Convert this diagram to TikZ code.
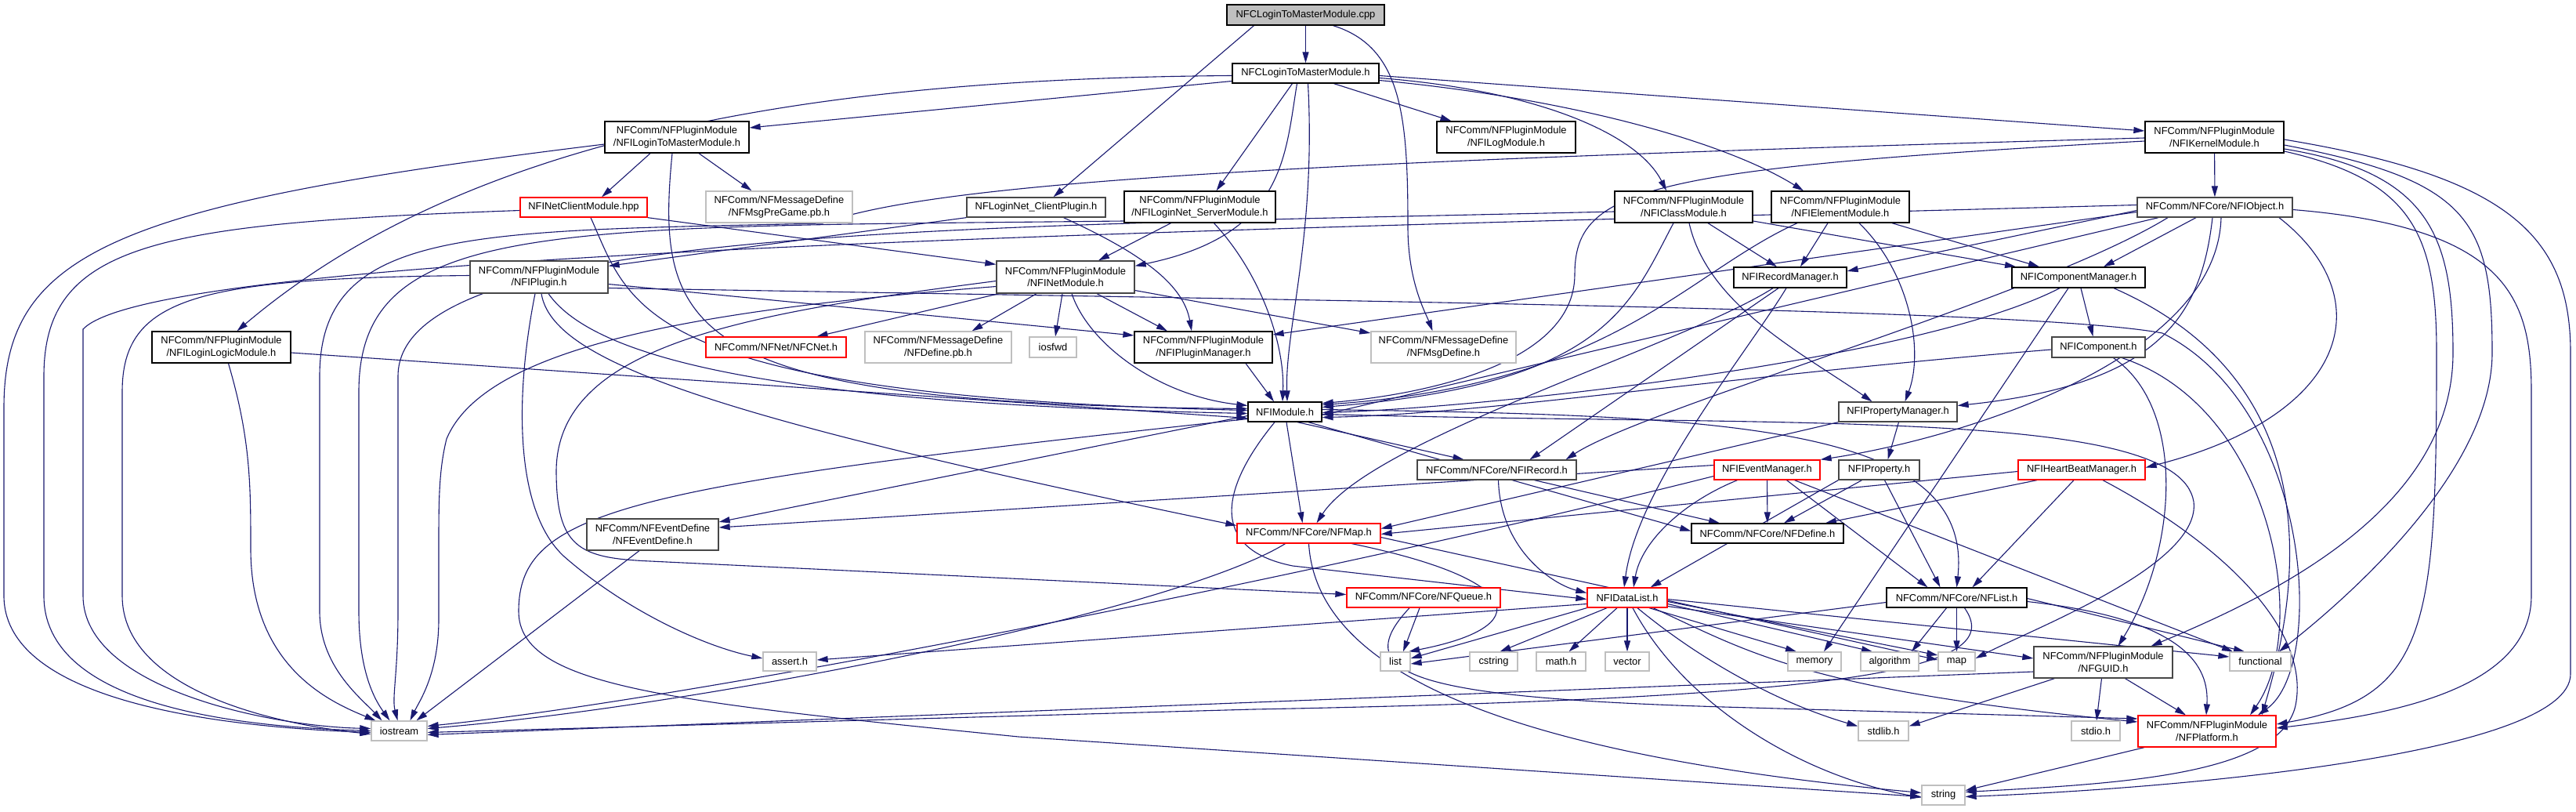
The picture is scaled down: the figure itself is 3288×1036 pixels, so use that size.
\documentclass[tikz,border=0pt]{standalone}
\usepackage{fontspec}
\setmainfont{Liberation Sans}
\usetikzlibrary{arrows.meta, backgrounds}
\definecolor{edgeblue}{RGB}{25,25,112}
\definecolor{leafgray}{RGB}{191,191,191}

\begin{document}
\begin{tikzpicture}[x=1pt, y=-1pt,
  hdr/.style={draw=black, fill=white, line width=1.3pt, inner sep=0pt, align=center,
    font=\fontsize{12.9}{15.5}\selectfont},
  dimhdr/.style={hdr, draw=black!72},
  leaf/.style={hdr, draw=leafgray},
  trunc/.style={hdr, draw=red},
  root/.style={hdr, fill=leafgray},
  inc/.style={draw=edgeblue, line width=1.1pt, -{Triangle[length=14pt,width=8pt]}}]
  \useasboundingbox (0,0) rectangle (3288,1036);

  % Top rows
  \node[root, minimum width=201pt, minimum height=26pt] (cpp) at (1666.5,19) {NFCLoginToMasterModule.cpp};
  \node[hdr, minimum width=187pt, minimum height=25pt] (ltmh) at (1666.5,93.5) {NFCLoginToMasterModule.h};
  \node[hdr, minimum width=184pt, minimum height=40pt] (iltm) at (864,175) {NFComm/NFPluginModule\\/NFILoginToMasterModule.h};
  \node[hdr, minimum width=177pt, minimum height=40pt] (ilog) at (1922.5,175) {NFComm/NFPluginModule\\/NFILogModule.h};
  \node[hdr, minimum width=177pt, minimum height=40pt] (ikernel) at (2826.5,175) {NFComm/NFPluginModule\\/NFIKernelModule.h};
  \node[trunc, minimum width=162pt, minimum height=25pt] (netclient) at (745,264.5) {NFINetClientModule.hpp};
  \node[leaf, minimum width=187pt, minimum height=40pt] (msgpregame) at (994.5,264) {NFComm/NFMessageDefine\\/NFMsgPreGame.pb.h};
  \node[dimhdr, minimum width=177pt, minimum height=25pt] (clientplugin) at (1322.5,264.5) {NFLoginNet\_ClientPlugin.h};
  \node[hdr, minimum width=193pt, minimum height=40pt] (isrv) at (1531.5,264) {NFComm/NFPluginModule\\/NFILoginNet\_ServerModule.h};
  \node[hdr, minimum width=176pt, minimum height=40pt] (iclass) at (2149,264) {NFComm/NFPluginModule\\/NFIClassModule.h};
  \node[hdr, minimum width=176pt, minimum height=40pt] (ielem) at (2349,264) {NFComm/NFPluginModule\\/NFIElementModule.h};
  \node[dimhdr, minimum width=198pt, minimum height=25pt] (iobject) at (2827,264.5) {NFComm/NFCore/NFIObject.h};
  \node[dimhdr, minimum width=176pt, minimum height=41pt] (iplugin) at (688,353.5) {NFComm/NFPluginModule\\/NFIPlugin.h};
  \node[dimhdr, minimum width=176pt, minimum height=41pt] (inet) at (1360,353.5) {NFComm/NFPluginModule\\/NFINetModule.h};
  \node[hdr, minimum width=144pt, minimum height=26pt] (irecmgr) at (2285,354) {NFIRecordManager.h};
  \node[hdr, minimum width=170pt, minimum height=26pt] (icompmgr) at (2653,354) {NFIComponentManager.h};
  \node[hdr, minimum width=177pt, minimum height=40pt] (illm) at (282.5,443) {NFComm/NFPluginModule\\/NFILoginLogicModule.h};
  \node[trunc, minimum width=179pt, minimum height=26pt] (cnet) at (990.5,443) {NFComm/NFNet/NFCNet.h};
  \node[leaf, minimum width=187pt, minimum height=40pt] (definepb) at (1197.5,443) {NFComm/NFMessageDefine\\/NFDefine.pb.h};
  \node[leaf, minimum width=60pt, minimum height=26pt] (iosfwd) at (1344,443) {iosfwd};
  \node[hdr, minimum width=176pt, minimum height=40pt] (iplugmgr) at (1536,443) {NFComm/NFPluginModule\\/NFIPluginManager.h};
  \node[leaf, minimum width=185pt, minimum height=40pt] (msgdefine) at (1842.5,443) {NFComm/NFMessageDefine\\/NFMsgDefine.h};
  \node[dimhdr, minimum width=119pt, minimum height=26pt] (icomp) at (2678.5,443) {NFIComponent.h};

  % Middle rows
  \node[hdr, minimum width=94pt, minimum height=25pt] (imodule) at (1640,525.5) {NFIModule.h};
  \node[dimhdr, minimum width=151pt, minimum height=25pt] (iprpmgr) at (2422.5,525.5) {NFIPropertyManager.h};
  \node[dimhdr, minimum width=203pt, minimum height=25pt] (irecord) at (1910.5,599.5) {NFComm/NFCore/NFIRecord.h};
  \node[trunc, minimum width=135pt, minimum height=25pt] (ievtmgr) at (2255.5,599.5) {NFIEventManager.h};
  \node[dimhdr, minimum width=103pt, minimum height=25pt] (iprop) at (2398.5,599.5) {NFIProperty.h};
  \node[trunc, minimum width=162pt, minimum height=25pt] (iheart) at (2657,599.5) {NFIHeartBeatManager.h};
  \node[dimhdr, minimum width=168pt, minimum height=40pt] (eventdef) at (833,682) {NFComm/NFEventDefine\\/NFEventDefine.h};
  \node[trunc, minimum width=183pt, minimum height=25pt] (nfmap) at (1670.5,680.5) {NFComm/NFCore/NFMap.h};
  \node[hdr, minimum width=194pt, minimum height=25pt] (nfdefine) at (2256,680.5) {NFComm/NFCore/NFDefine.h};
  \node[trunc, minimum width=196pt, minimum height=25pt] (nfqueue) at (1817,762.5) {NFComm/NFCore/NFQueue.h};
  \node[trunc, minimum width=102pt, minimum height=25pt] (datalist) at (2077,762.5) {NFIDataList.h};
  \node[hdr, minimum width=179pt, minimum height=25pt] (nflist) at (2497.5,762.5) {NFComm/NFCore/NFList.h};

  % Bottom rows
  \node[leaf, minimum width=68pt, minimum height=24pt] (assert) at (1008,844) {assert.h};
  \node[leaf, minimum width=38pt, minimum height=24pt] (list) at (1781,844) {list};
  \node[leaf, minimum width=61pt, minimum height=24pt] (cstring) at (1906.5,844) {cstring};
  \node[leaf, minimum width=63pt, minimum height=24pt] (mathh) at (1992.5,844) {math.h};
  \node[leaf, minimum width=56pt, minimum height=24pt] (vector) at (2077,844) {vector};
  \node[leaf, minimum width=68pt, minimum height=24pt] (memory) at (2316,844) {memory};
  \node[leaf, minimum width=74pt, minimum height=24pt] (algorithm) at (2412,844) {algorithm};
  \node[leaf, minimum width=47pt, minimum height=24pt] (map) at (2497.5,844) {map};
  \node[dimhdr, minimum width=177pt, minimum height=40pt] (guid) at (2684.5,845) {NFComm/NFPluginModule\\/NFGUID.h};
  \node[leaf, minimum width=78pt, minimum height=24pt] (functional) at (2885,844) {functional};
  \node[leaf, minimum width=71pt, minimum height=25pt] (iostream) at (509.5,932.5) {iostream};
  \node[leaf, minimum width=64pt, minimum height=25pt] (stdlib) at (2404,932.5) {stdlib.h};
  \node[leaf, minimum width=62pt, minimum height=25pt] (stdio) at (2675,932.5) {stdio.h};
  \node[trunc, minimum width=176pt, minimum height=40pt] (platform) at (2817,933) {NFComm/NFPluginModule\\/NFPlatform.h};
  \node[leaf, minimum width=55pt, minimum height=25pt] (string) at (2480.5,1014.5) {string};

  \begin{scope}[on background layer]
  \fill[white] (0,0) rectangle (3288,1036);

  % cpp
  \draw[inc] (cpp) -- (ltmh);
  \draw[inc] ([xshift=-66pt]cpp.south) -- ([xshift=22pt]clientplugin.north);
  \draw[inc] ([xshift=35pt]cpp.south) .. controls (1790,60) and (1797,150) .. (1797,290) .. controls (1797,360) and (1820,400) .. ([xshift=-14pt]msgdefine.north);

  % NFCLoginToMasterModule.h
  \draw[inc] ([yshift=-10pt]ltmh.west) -- ([yshift=12pt]iltm.east);
  \draw[inc] ([yshift=-3pt]ltmh.west) .. controls (1050,100) and (600,170) .. ([xshift=20pt]illm.north);
  \draw[inc] ([xshift=36pt]ltmh.south) -- ([xshift=-70pt]ilog.north);
  \draw[inc] ([yshift=-6pt]ltmh.east) .. controls (1960,115) and (2090,170) .. ([xshift=-22pt]iclass.north);
  \draw[inc] ([yshift=-9pt]ltmh.east) .. controls (2000,125) and (2200,180) .. ([xshift=-47pt]ielem.north);
  \draw[inc] ([yshift=-3pt]ltmh.east) -- ([yshift=8pt]ikernel.west);
  \draw[inc] ([xshift=-17pt]ltmh.south) -- ([xshift=21pt]isrv.north);
  \draw[inc] ([xshift=-11pt]ltmh.south) .. controls (1640,200) and (1640,300) .. ([yshift=-7pt]inet.north east);
  \draw[inc] ([xshift=3pt]ltmh.south) .. controls (1680,300) and (1640,420) .. ([xshift=3pt]imodule.north);

  % NFILoginToMasterModule.h
  \draw[inc] ([xshift=-34pt]iltm.south) -- ([xshift=23pt]netclient.north);
  \draw[inc] ([xshift=28pt]iltm.south) -- ([xshift=-35pt]msgpregame.north);
  \draw[inc] ([xshift=-6pt]iltm.south) .. controls (835,430) and (880,515) .. ([yshift=4pt]imodule.west);
  \draw[inc] ([yshift=-9pt]iltm.west) .. controls (150,260) and (5,320) .. (5,520) -- (5,760) .. controls (5,900) and (300,928) .. ([yshift=-2pt]iostream.west);

  % NFINetClientModule.hpp
  \draw[inc] (netclient.south east) -- ([yshift=-5pt]inet.north west);
  \draw[inc] ([xshift=9pt]netclient.south) .. controls (805,390) and (810,505) .. ([yshift=2pt]imodule.west);
  \draw[inc] ([yshift=-4pt]netclient.west) .. controls (200,285) and (56,310) .. (56,480) -- (56,760) .. controls (56,900) and (300,927) .. ([yshift=0pt]iostream.west);

  % NFLoginNet_ClientPlugin.h
  \draw[inc] (clientplugin.south west) -- ([yshift=-7pt]iplugin.north east);
  \draw[inc] ([xshift=35pt]clientplugin.south) .. controls (1450,320) and (1510,360) .. ([xshift=-15pt]iplugmgr.north);

  % NFILoginNet_ServerModule.h
  \draw[inc] ([xshift=-37pt]isrv.south) -- ([xshift=42pt]inet.north);
  \draw[inc] ([xshift=18pt]isrv.south) .. controls (1610,350) and (1640,440) .. ([xshift=-3pt]imodule.north);
  \draw[inc] ([yshift=-18pt]isrv.west) .. controls (700,290) and (458,280) .. (458,500) -- (458,780) .. controls (458,860) and (480,895) .. ([xshift=-12pt]iostream.north);

  % NFIClassModule.h
  \draw[inc] ([xshift=31pt]iclass.south) -- ([xshift=-17pt]irecmgr.north);
  \draw[inc] ([xshift=7pt]iclass.south) .. controls (2180,390) and (2300,450) .. ([xshift=-33pt]iprpmgr.north);
  \draw[inc] ([xshift=-13pt]iclass.south) .. controls (2080,390) and (2050,490) .. ([yshift=6pt]imodule.east);
  \draw[inc] ([yshift=-18pt]iclass.east) -- ([xshift=-80pt]icompmgr.north);
  \draw[inc] ([yshift=-6pt]iclass.west) .. controls (1200,290) and (508,290) .. (508,480) -- (508,780) .. controls (508,860) and (500,890) .. ([xshift=-2pt]iostream.north);

  % NFIElementModule.h
  \draw[inc] ([xshift=-16pt]ielem.south) -- ([xshift=13pt]irecmgr.north);
  \draw[inc] ([xshift=24pt]ielem.south) .. controls (2440,350) and (2455,450) .. ([xshift=9pt]iprpmgr.north);
  \draw[inc] ([xshift=-55pt]ielem.south) .. controls (2150,350) and (2060,490) .. ([yshift=9pt]imodule.east);
  \draw[inc] ([xshift=66pt]ielem.south) -- ([xshift=-50pt]icompmgr.north);

  % NFIKernelModule.h
  \draw[inc] (ikernel) -- (iobject);
  \draw[inc] ([yshift=-5pt]ikernel.west) .. controls (2100,215) and (2010,240) .. (2010,350) .. controls (2010,470) and (1800,505) .. ([yshift=11pt]imodule.east);
  \draw[inc] ([yshift=-1pt]ikernel.west) .. controls (1700,205) and (1200,230) .. (1050,285) .. controls (600,295) and (408,290) .. (408,480) -- (408,780) .. controls (408,850) and (460,890) .. ([xshift=-22pt]iostream.north);
  \draw[inc] ([yshift=-15pt]ikernel.east) .. controls (3100,220) and (3131,300) .. (3131,450) .. controls (3131,650) and (2900,760) .. ([xshift=61pt]guid.north);
  \draw[inc] ([yshift=-18pt]ikernel.east) .. controls (3080,230) and (3110,300) .. (3110,450) .. controls (3110,800) and (3100,890) .. ([yshift=9pt]platform.east);
  \draw[inc] ([yshift=-10pt]ikernel.east) .. controls (3150,230) and (3181,280) .. (3181,450) .. controls (3181,600) and (3000,760) .. ([xshift=24pt]functional.north);
  \draw[inc] ([yshift=-3pt]ikernel.east) .. controls (3200,225) and (3281,300) .. (3281,450) -- (3281,860) .. controls (3281,960) and (2800,1005) .. ([yshift=-2pt]string.east);

  % NFComm/NFCore/NFIObject.h
  \draw[inc] ([yshift=-4pt]iobject.west) -- ([yshift=8pt]irecmgr.east);
  \draw[inc] ([xshift=-24pt]iobject.south) -- ([xshift=32pt]icompmgr.north);
  \draw[inc] ([xshift=-3pt]iobject.south) .. controls (2810,400) and (2760,490) .. ([yshift=8pt]iprpmgr.east);
  \draw[inc] ([xshift=8pt]iobject.south) .. controls (2830,460) and (2500,560) .. (ievtmgr.north east);
  \draw[inc] ([xshift=82pt]iobject.south) .. controls (3040,380) and (3000,530) .. ([yshift=3pt]iheart.east);
  \draw[inc] ([yshift=-3pt]iobject.east) .. controls (3200,290) and (3231,380) .. (3231,500) -- (3231,760) .. controls (3231,880) and (3050,912) .. ([yshift=4pt]platform.east);
  \draw[inc] ([yshift=3pt]iobject.west) .. controls (1500,295) and (200,320) .. (106,420) -- (106,760) .. controls (106,880) and (350,927) .. ([yshift=3pt]iostream.west);
  \draw[inc] ([yshift=-6pt]iobject.west) -- ([yshift=16pt]iplugmgr.east);
  \draw[inc] ([xshift=-72pt]iobject.south) -- ([yshift=-4pt]imodule.east);
  \draw[inc] ([xshift=-60pt]iobject.south) .. controls (2600,380) and (2100,520) .. ([xshift=88pt]irecord.north);

  % NFIRecordManager.h
  \draw[inc] ([xshift=-15pt]irecmgr.south) -- ([xshift=42pt]irecord.north);
  \draw[inc] ([xshift=-22pt]irecmgr.south) .. controls (2150,440) and (1750,560) .. ([xshift=10pt]nfmap.north);
  \draw[inc] ([xshift=-5pt]irecmgr.south) .. controls (2230,450) and (2090,620) .. ([xshift=-4pt]datalist.north);

  % NFIComponentManager.h
  \draw[inc] ([xshift=3pt]icompmgr.south) -- ([xshift=-7pt]icomp.north);
  \draw[inc] ([xshift=-24pt]icompmgr.south) .. controls (2450,460) and (1900,520) .. ([yshift=-1pt]imodule.east);
  \draw[inc] ([xshift=-13pt]icompmgr.south) -- ([xshift=12pt]memory.north);
  \draw[inc] ([xshift=45pt]icompmgr.south) .. controls (3000,500) and (2920,800) .. ([xshift=70pt]platform.north);

  % NFIComponent.h
  \draw[inc] ([yshift=-3pt]icomp.west) .. controls (2200,480) and (1900,528) .. ([yshift=-7pt]imodule.east);
  \draw[inc] ([xshift=19pt]icomp.south) .. controls (2790,520) and (2780,700) .. ([xshift=19pt]guid.north);
  \draw[inc] ([xshift=30pt]icomp.south) .. controls (2900,520) and (2950,800) .. ([xshift=55pt]platform.north);

  % NFIPropertyManager.h
  \draw[inc] ([xshift=1pt]iprpmgr.south) -- ([xshift=11pt]iprop.north);
  \draw[inc] (iprpmgr.south west) -- ([yshift=6pt]nfmap.east);

  % NFIProperty.h
  \draw[inc] ([xshift=-22pt]iprop.south) -- ([xshift=21pt]nfdefine.north);
  \draw[inc] ([xshift=7pt]iprop.south) -- ([xshift=-21pt]nflist.north);
  \draw[inc] (iprop.south west) -- ([xshift=-22pt]datalist.north east);

  % NFIEventManager.h
  \draw[inc] (ievtmgr) -- (nfdefine);
  \draw[inc] ([xshift=-38pt]ievtmgr.south) .. controls (2150,640) and (2095,690) .. ([xshift=8pt]datalist.north);
  \draw[inc] ([xshift=25pt]ievtmgr.south) -- ([xshift=-37pt]nflist.north);
  \draw[inc] ([xshift=35pt]ievtmgr.south) -- ([xshift=-35pt]functional.north);
  \draw[inc] ([yshift=6pt]ievtmgr.west) -- ([yshift=9pt]eventdef.east);
  \draw[inc] ([yshift=-8pt]ievtmgr.west) .. controls (1700,730) and (900,890) .. ([yshift=6pt]iostream.east);

  % NFIHeartBeatManager.h
  \draw[inc] ([xshift=-10pt]iheart.south) -- ([xshift=20pt]nflist.north);
  \draw[inc] ([xshift=-57pt]iheart.south) -- ([xshift=74pt]nfdefine.north);
  \draw[inc] ([yshift=-2pt]iheart.west) -- ([yshift=-1pt]nfmap.east);
  \draw[inc] ([xshift=27pt]iheart.south) .. controls (2830,690) and (2950,800) .. (2930,900) .. controls (2910,990) and (2700,1000) .. ([yshift=4pt]string.east);

  % NFComm/NFCore/NFIRecord.h
  \draw[inc] ([xshift=2pt]irecord.south) .. controls (1915,700) and (1980,745) .. ([yshift=6pt]datalist.west);
  \draw[inc] ([xshift=48pt]irecord.south) -- ([xshift=-61pt]nfdefine.north);

  % NFIModule.h
  \draw[inc] ([xshift=16pt]imodule.south) -- ([xshift=-42pt]irecord.north);
  \draw[inc] ([xshift=2pt]imodule.south) -- ([xshift=-8pt]nfmap.north);
  \draw[inc] ([xshift=30pt]imodule.south) -- ([yshift=3pt]nfdefine.west);
  \draw[inc] ([yshift=-5pt]imodule.west) -- ([yshift=16pt]eventdef.east);
  \draw[inc] ([xshift=-13pt]imodule.south) .. controls (1560,620) and (1540,700) .. (1650,722) -- ([yshift=-2pt]datalist.west);
  \draw[inc] ([yshift=-9pt]imodule.west) .. controls (800,620) and (662,650) .. (662,780) .. controls (662,875) and (850,895) .. (1300,940) -- ([yshift=-2pt]string.west);
  \draw[inc] ([yshift=3pt]imodule.east) .. controls (2200,530) and (2520,540) .. (nflist.north);
  \draw[inc] ([yshift=-3pt]imodule.east) .. controls (2300,545) and (2780,520) .. (2800,640) .. controls (2810,720) and (2600,800) .. ([yshift=4pt]map.east);

  % NFIPlugin.h
  \draw[inc] ([yshift=-9pt]iplugin.east) -- ([yshift=15pt]iplugmgr.west);
  \draw[inc] ([xshift=12pt]iplugin.south) .. controls (760,460) and (1000,515) .. ([yshift=-2pt]imodule.west);
  \draw[inc] ([yshift=2pt]iplugin.west) .. controls (250,355) and (156,380) .. (156,500) -- (156,760) .. controls (156,880) and (350,924) .. ([yshift=-4pt]iostream.west);
  \draw[inc] ([xshift=-5pt]iplugin.south) .. controls (658,500) and (655,650) .. (720,710) .. controls (800,780) and (900,825) .. ([yshift=4pt]assert.west);
  \draw[inc] ([xshift=3pt]iplugin.south) .. controls (705,460) and (900,530) .. ([yshift=10pt]nfmap.west);
  \draw[inc] ([yshift=-14pt]iplugin.east) .. controls (1800,385) and (2600,395) .. (2760,425) .. controls (2950,520) and (2970,850) .. ([xshift=65pt]platform.north);

  % NFILoginLogicModule.h
  \draw[inc] ([yshift=-7pt]illm.east) -- ([yshift=-8pt]imodule.west);
  \draw[inc] ([xshift=9pt]illm.south) .. controls (320,560) and (320,620) .. (320,700) .. controls (320,850) and (420,895) .. ([xshift=-30pt]iostream.north);

  % NFIPluginManager.h
  \draw[inc] ([xshift=54pt]iplugmgr.south) -- ([xshift=-14pt]imodule.north);

  % NFINetModule.h
  \draw[inc] ([xshift=-85pt]inet.south) -- ([xshift=52pt]cnet.north);
  \draw[inc] ([xshift=-37pt]inet.south) -- ([xshift=43pt]definepb.north);
  \draw[inc] ([xshift=-4pt]inet.south) -- ([xshift=3pt]iosfwd.north);
  \draw[inc] ([xshift=40pt]inet.south) -- ([xshift=-46pt]iplugmgr.north);
  \draw[inc] ([xshift=8pt]inet.south) .. controls (1390,440) and (1480,505) .. ([yshift=8pt]imodule.west);
  \draw[inc] ([yshift=-17pt]inet.east) -- ([yshift=18pt]msgdefine.west);
  \draw[inc] ([yshift=-5pt]inet.west) .. controls (950,400) and (712,440) .. (710,600) .. controls (710,700) and (740,712) .. (830,716) -- ([yshift=4pt]nfqueue.west);
  \draw[inc] ([yshift=-12pt]inet.west) .. controls (900,395) and (620,440) .. (570,560) .. controls (560,600) and (560,640) .. (560,700) -- (560,790) .. controls (560,860) and (535,895) .. ([xshift=14pt]iostream.north);

  % NFEventDefine.h
  \draw[inc] ([xshift=-17pt]eventdef.south) -- ([xshift=22pt]iostream.north);

  % NFMap.h
  \draw[inc] ([xshift=55pt]nfmap.south) .. controls (1950,740) and (1960,800) .. ([xshift=17pt]list.north);
  \draw[inc] ([yshift=-5pt]nfmap.east) -- ([yshift=2pt]map.west);
  \draw[inc] (nfmap.south) .. controls (1680,850) and (1900,960) .. ([yshift=3pt]string.west);
  \draw[inc] ([xshift=-30pt]nfmap.south) .. controls (1500,780) and (900,900) .. ([yshift=3pt]iostream.east);

  % NFQueue.h
  \draw[inc] ([xshift=-5pt]nfqueue.south) -- ([xshift=10pt]list.north);
  \draw[inc] ([xshift=-18pt]nfqueue.south) .. controls (1720,860) and (1800,890) .. (2200,902) -- ([yshift=16pt]platform.west);

  % NFIDataList.h
  \draw[inc] (datalist.south west) -- ([yshift=4pt]list.east);
  \draw[inc] ([xshift=-26pt]datalist.south) -- ([xshift=8pt]cstring.north);
  \draw[inc] ([xshift=-13pt]datalist.south) -- ([xshift=10pt]mathh.north);
  \draw[inc] (datalist) -- (vector);
  \draw[inc] ([xshift=28pt]datalist.south) -- ([xshift=-23pt]memory.north);
  \draw[inc] ([yshift=-8pt]datalist.east) -- ([xshift=-22pt]algorithm.north);
  \draw[inc] ([yshift=-5pt]datalist.east) -- ([yshift=8pt]map.west);
  \draw[inc] ([yshift=-2pt]datalist.east) -- ([yshift=6pt]functional.west);
  \draw[inc] ([yshift=-11pt]datalist.east) -- ([yshift=5pt]guid.west);
  \draw[inc] ([xshift=33pt]datalist.south) .. controls (2230,830) and (2300,880) .. ([yshift=12pt]platform.west);
  \draw[inc] ([xshift=13pt]datalist.south) .. controls (2180,850) and (2280,900) .. ([yshift=6pt]stdlib.west);
  \draw[inc] ([xshift=7pt]datalist.south) .. controls (2150,900) and (2300,990) .. ([yshift=-3pt]string.west);
  \draw[inc] ([yshift=-8pt]datalist.west) -- ([yshift=2pt]assert.east);

  % NFList.h
  \draw[inc] ([yshift=-6pt]nflist.west) -- ([yshift=-3pt]list.east);
  \draw[inc] (nflist) -- (map);
  \draw[inc] ([xshift=-13pt]nflist.south) -- ([xshift=28pt]algorithm.north);
  \draw[inc] ([xshift=10pt]nflist.south) .. controls (2560,850) and (2400,890) .. (1600,905) -- ([yshift=-2pt]iostream.east);
  \draw[inc] ([yshift=-5pt]nflist.east) .. controls (2790,790) and (2820,850) .. ([xshift=-1pt]platform.north);
  \draw[inc] ([yshift=-1pt]nflist.east) -- ([xshift=-20pt]functional.north);

  % NFGUID.h
  \draw[inc] ([xshift=28pt]guid.south) -- ([xshift=-27pt]platform.north);
  \draw[inc] ([xshift=-2pt]guid.south) -- ([xshift=1pt]stdio.north);
  \draw[inc] ([xshift=-62pt]guid.south) -- ([yshift=6pt]stdlib.east);
  \draw[inc] ([yshift=-12pt]guid.west) -- ([yshift=-5pt]iostream.east);

  % NFPlatform.h
  \draw[inc] ([xshift=-80pt]platform.south) -- ([yshift=6pt]string.east);
  \end{scope}
\end{tikzpicture}
\end{document}
